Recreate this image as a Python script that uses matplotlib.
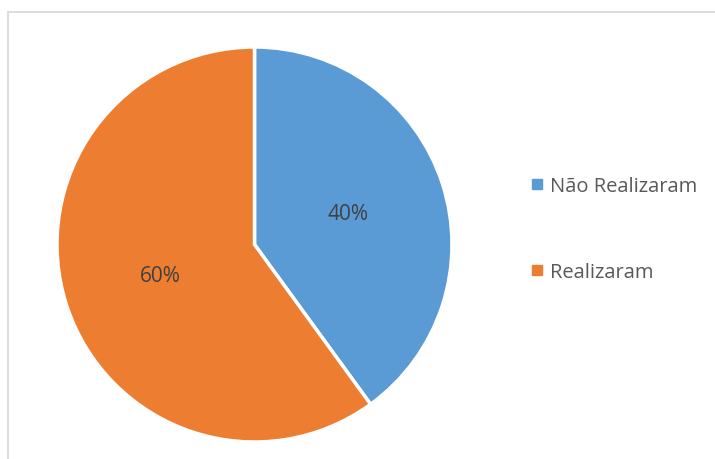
import matplotlib
matplotlib.use("Agg")
import matplotlib.pyplot as plt
from matplotlib.lines import Line2D
from matplotlib.patches import Rectangle

categories = ["Não Realizaram", "Realizaram"]
shares = [40, 60]
colors = ["#5B9BD5", "#ED7D31"]

plt.rcParams["font.family"] = ["Open Sans", "DejaVu Sans"]

W, H, DPI = 715, 460, 100
fig = plt.figure(figsize=(W / DPI, H / DPI), dpi=DPI)
fig.patch.set_facecolor("white")

# chart area frame
fig.add_artist(Rectangle((7.5 / W, -0.1), 1.2, (460 - 12.5) / H + 0.1,
                         transform=fig.transFigure, fill=False,
                         edgecolor="#D9D9D9", linewidth=1.3))

cx, cy, r = 254.5, 245.5, 197.5
ax = fig.add_axes([(cx - r) / W, (H - cy - r) / H, 2 * r / W, 2 * r / H])
wedges, _, autotexts = ax.pie(
    shares, colors=colors, startangle=90, counterclock=False,
    autopct=lambda p: f"{p:.0f}%", pctdistance=0.5, radius=1,
    wedgeprops=dict(edgecolor="white", linewidth=2.5),
    textprops=dict(color="#404040", fontsize=15))
ax.set_xlim(-1, 1)
ax.set_ylim(-1, 1)
ax.set_aspect("equal")
ax.axis("off")

handles = [Line2D([], [], marker="s", linestyle="none", markersize=6.5,
                  markerfacecolor=c, markeredgecolor=c) for c in colors]
leg = fig.legend(handles, categories, loc="center left",
                 bbox_to_anchor=(522 / W, 1 - 230 / H), frameon=False,
                 fontsize=14.5, labelcolor="#595959", handlelength=0.5,
                 handletextpad=0.4, labelspacing=3.25, borderpad=0)

fig.savefig("out.png", dpi=DPI, facecolor="white")
